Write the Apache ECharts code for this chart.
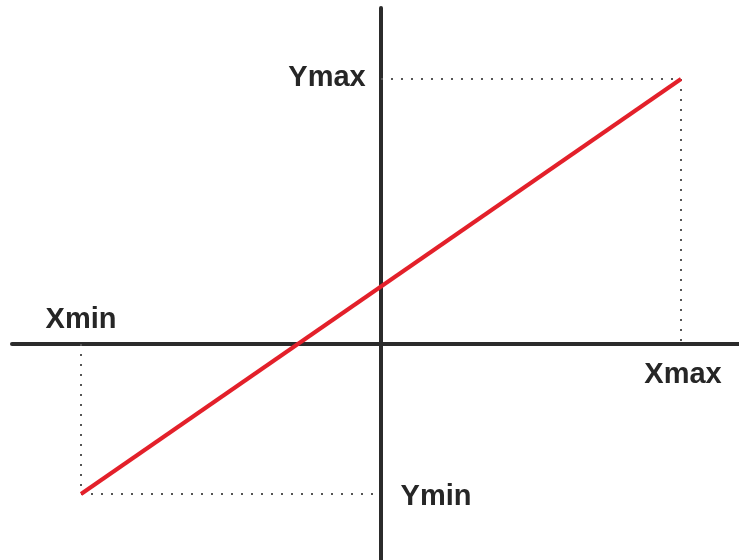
<!DOCTYPE html>
<html>
<head>
<meta charset="utf-8">
<script src="https://cdn.jsdelivr.net/npm/echarts@6/dist/echarts.min.js"></script>
<style>
  html, body { margin: 0; padding: 0; background: #fff; }
  #chart { width: 739px; height: 560px; }
</style>
</head>
<body>
<div id="chart"></div>
<script>
// end points of the red line
var xEnds = [-3, 3];
var yEnds = [-1.5, 2.65];
var labelNames = ['Xmin', 'Xmax', 'Ymin', 'Ymax'];

var myChart = echarts.init(document.getElementById('chart'));

var axisColor = '#2b2b2b';
// 2px dots every 10px
var dotStyle = { color: '#555', width: 2, type: [2, 8] };

// dotted guides: Xmin down to Ymin, Ymax across to Xmax
var guideLow = [[xEnds[0], 0], [xEnds[0], yEnds[0]], [0, yEnds[0]]];
var guideHigh = [[0, yEnds[1]], [xEnds[1], yEnds[1]], [xEnds[1], 0]];

var labelPoints = [
	{ value: [xEnds[0], 0], name: labelNames[0], label: { offset: [0, -24] } },
	{ value: [xEnds[1], 0], name: labelNames[1], label: { offset: [2, 31] } },
	{ value: [0, yEnds[0]], name: labelNames[2], label: { offset: [55, 3] } },
	{ value: [0, yEnds[1]], name: labelNames[3], label: { offset: [-54, -1] } }
];

var option = {
	animation: false,
	grid: { left: 12, right: 0, top: 8, bottom: 0 },
	xAxis: {
		type: 'value',
		min: -3.69,
		max: 3.58,
		axisLine: { onZero: true, lineStyle: { color: axisColor, width: 4 } },
		axisTick: { show: false },
		axisLabel: { show: false },
		splitLine: { show: false }
	},
	yAxis: {
		type: 'value',
		min: -2.16,
		max: 3.36,
		axisLine: { onZero: true, lineStyle: { color: axisColor, width: 4 } },
		axisTick: { show: false },
		axisLabel: { show: false },
		splitLine: { show: false }
	},
	series: [
		{
			type: 'line',
			data: guideLow,
			symbol: 'none',
			lineStyle: dotStyle,
			z: 1
		},
		{
			type: 'line',
			data: guideHigh,
			symbol: 'none',
			lineStyle: dotStyle,
			z: 1
		},
		{
			type: 'line',
			data: [[xEnds[0], yEnds[0]], [xEnds[1], yEnds[1]]],
			symbol: 'none',
			lineStyle: { color: '#e3202a', width: 4 },
			z: 3
		},
		{
			type: 'scatter',
			data: labelPoints,
			symbolSize: 0,
			itemStyle: { opacity: 1, color: 'transparent' },
			label: {
				show: true,
				position: 'inside',
				formatter: '{b}',
				fontFamily: 'Liberation Sans',
				fontWeight: 'bold',
				fontSize: 29,
				color: '#262626'
			},
			z: 4
		}
	]
};

myChart.setOption(option);
</script>
</body>
</html>
